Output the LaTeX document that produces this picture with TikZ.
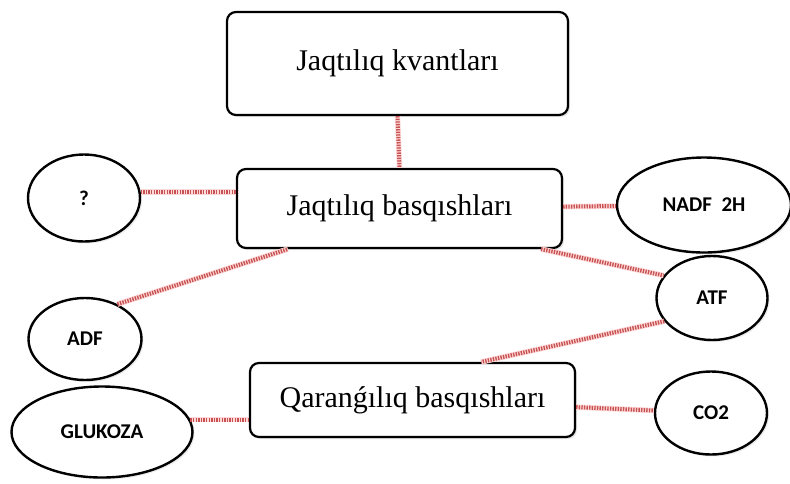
\documentclass[tikz,border=0pt]{standalone}
\usepackage{fontspec}
\setmainfont{Liberation Serif}
\newfontfamily\ovalfont{Carlito}
\usetikzlibrary{shapes,shadows}

\begin{document}
\begin{tikzpicture}[x=1pt,y=-1pt,
stagebox/.style={rectangle, draw=black, fill=white, line width=2.2pt, rounded corners=9pt, font=\fontsize{30}{35}\selectfont, drop shadow={opacity=0.2,shadow xshift=2pt,shadow yshift=-2pt}},
substoval/.style={ellipse, draw=black, fill=white, line width=2.4pt, inner sep=0pt, font=\ovalfont\bfseries\fontsize{21}{25}\selectfont, drop shadow={opacity=0.15,shadow xshift=2pt,shadow yshift=-2pt}},
link/.style={draw=red!65!black!90, draw opacity=0.7, line width=4pt, dash pattern=on 1.4pt off 1.2pt, preaction={draw=red!15, solid, line width=5.5pt}}
]
\useasboundingbox (0,0) rectangle (790,483);
%Nodes
\node[stagebox,minimum width=341pt,minimum height=103pt] at (397.5,63.5) (KV) {Jaqtılıq kvantları};
\node[stagebox,minimum width=325pt,minimum height=79pt] at (399.5,208.5) (JB) {Jaqtılıq basqıshları};
\node[stagebox,minimum width=325pt,minimum height=74pt] at (412.5,400) (QB) {Qaranǵılıq basqıshları};

\node[substoval,minimum width=112pt,minimum height=87pt] at (84,198) (Q) {?};
\node[substoval,minimum width=113pt,minimum height=82pt] at (85,339) (ADF) {ADF};
\node[substoval,minimum width=181pt,minimum height=91pt] at (102,432) (GLU) {GLUKOZA};
\node[substoval,minimum width=174pt,minimum height=95pt] at (704,205) (NADF) {NADF\ \ 2H};
\node[substoval,minimum width=111pt,minimum height=84pt] at (712,298) (ATF) {ATF};
\node[substoval,minimum width=112pt,minimum height=83pt] at (711,413) (CO2) {CO2};

%Lines
\draw[link] (KV.south) -- (JB.north);
\draw[link] (Q.6) -- (Q.6 -| JB.west);
\draw[link] (JB) -- (NADF);
\draw[link] (ADF.47) -- (JB.200);
\draw[link] (JB.-16) -- (ATF.155);
\draw[link] (ATF.206) -- (QB.29);
\draw[link] (GLU.8) -- (GLU.8 -| QB.west);
\draw[link] (QB) -- (CO2);

\end{tikzpicture}
\end{document}
